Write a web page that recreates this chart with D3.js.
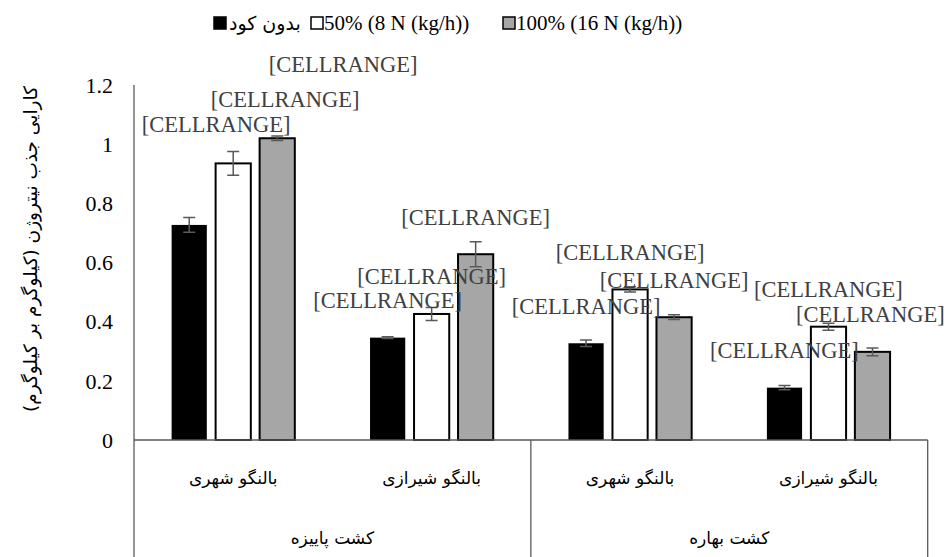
<!DOCTYPE html>
<html lang="fa">
<head>
  <meta charset="UTF-8">
  <title>Nitrogen uptake efficiency</title>
  <script src="https://d3js.org/d3.v7.min.js"></script>
  <style>
    body { margin: 0; background: #fff; }
    svg { display: block; background: #fff; }
    .serif { font-family: "Liberation Serif", "Times New Roman", "DejaVu Serif", serif; }
    .fa { font-family: "DejaVu Sans", sans-serif; }
  </style>
</head>
<body>

<svg id="chart" width="947" height="557"></svg>

<script>
// Data
const subCategories = ["بالنگو شهری", "بالنگو شیرازی", "بالنگو شهری", "بالنگو شیرازی"];
const groupNames = ["کشت پاییزه", "کشت بهاره"];
const seriesNames = ["بدون کود", "50% (8 N (kg/h))", "100% (16 N (kg/h))"];

const noFertilizer = [0.727, 0.346, 0.327, 0.177];
const half = [0.935, 0.426, 0.509, 0.383];
const full = [1.02, 0.628, 0.415, 0.298];

const noFertilizerErr = [0.025, 0.003, 0.011, 0.007];
const halfErr = [0.04, 0.022, 0.009, 0.012];
const fullErr = [0.008, 0.042, 0.008, 0.013];

const yTicks = [0, 0.2, 0.4, 0.6, 0.8, 1, 1.2];
const labelText = "[CELLRANGE]";
const yTitle = "کارایی جذب نیتروژن (کیلوگرم بر کیلوگرم)";

// Layout / style (not data)
const colors = ["#000000", "#ffffff", "#a6a6a6"];
// manual shifts of data labels (dx, dy from default spot) -- Excel labels were dragged in the first group
const labelShift = [
  [[27, -63], [52, -27], [66, -37]],
  [[0, 0], [0, 0], [0, 0]],
  [[0, 0], [0, 0], [0, 0]],
  [[0, 0], [0, 0], [-2, 0]]
];

const seriesValues = [noFertilizer, half, full];
const seriesErrors = [noFertilizerErr, halfErr, fullErr];

const svg = d3.select("#chart");
const plotLeft = 134, plotRight = 927.7, plotTop = 85, base = 440, plotBottom = 557;

const x0 = d3.scaleBand()
  .domain(d3.range(subCategories.length))
  .range([plotLeft, plotRight])
  .padding(0);

const bandW = x0.bandwidth();
const x1 = d3.scaleBand()
  .domain(d3.range(seriesNames.length))
  .range([bandW / 2 - 66, bandW / 2 + 66])
  .paddingInner(0.2)
  .paddingOuter(0.1);

const y = d3.scaleLinear()
  .domain([0, 1.2])
  .range([base, plotTop]);

// y tick labels (no grid lines, no tick marks)
svg.append("g")
  .selectAll("text")
  .data(yTicks)
  .join("text")
  .attr("class", "serif")
  .attr("x", 113)
  .attr("y", d => y(d))
  .attr("dy", "0.35em")
  .attr("text-anchor", "end")
  .attr("font-size", 22)
  .attr("fill", "#000")
  .text(d => String(+d.toFixed(1)));

// y title
svg.append("text")
  .attr("class", "fa")
  .attr("transform", `translate(30,${(plotTop + 413) / 2}) rotate(-90)`)
  .attr("text-anchor", "middle")
  .attr("dominant-baseline", "central")
  .attr("direction", "rtl")
  .attr("font-size", 18.5)
  .attr("fill", "#000")
  .text(yTitle);

// bars
const rows = [];
subCategories.forEach((c, i) => {
  seriesNames.forEach((s, j) => {
    rows.push({ cat: i, ser: j, value: seriesValues[j][i], err: seriesErrors[j][i] });
  });
});

svg.append("g")
  .selectAll("rect")
  .data(rows)
  .join("rect")
  .attr("x", d => x0(d.cat) + x1(d.ser))
  .attr("y", d => y(d.value))
  .attr("width", x1.bandwidth())
  .attr("height", d => base - y(d.value))
  .attr("fill", d => colors[d.ser])
  .attr("stroke", "#000")
  .attr("stroke-width", d => d.ser === 0 ? 0 : 2);

// error bars
const errG = svg.append("g")
  .attr("stroke", "#595959")
  .attr("stroke-width", 1.5)
  .attr("fill", "none");

const cx = d => x0(d.cat) + x1(d.ser) + x1.bandwidth() / 2;

errG.selectAll("path")
  .data(rows)
  .join("path")
  .attr("d", d => {
    const x = cx(d), y1 = y(d.value + d.err), y2 = y(d.value - d.err);
    return `M${x},${y1}V${y2}M${x - 6},${y1}H${x + 6}M${x - 6},${y2}H${x + 6}`;
  });

// axis lines
const axisG = svg.append("g")
  .attr("stroke", "#595959")
  .attr("stroke-width", 1.3)
  .attr("fill", "none");
axisG.append("line").attr("x1", plotLeft).attr("x2", plotLeft).attr("y1", plotTop).attr("y2", plotBottom);
axisG.append("line").attr("x1", plotLeft).attr("x2", plotRight).attr("y1", base).attr("y2", base);
[x0(2), plotRight].forEach(xv => {
  axisG.append("line").attr("x1", xv).attr("x2", xv).attr("y1", base).attr("y2", plotBottom);
});

// category labels, two levels
svg.append("g")
  .selectAll("text")
  .data(subCategories)
  .join("text")
  .attr("class", "fa")
  .attr("x", (d, i) => x0(i) + bandW / 2)
  .attr("y", 478)
  .attr("text-anchor", "middle")
  .attr("dominant-baseline", "central")
  .attr("direction", "rtl")
  .attr("font-size", 17)
  .attr("fill", "#000")
  .text(d => d);

svg.append("g")
  .selectAll("text")
  .data(groupNames)
  .join("text")
  .attr("class", "fa")
  .attr("x", (d, i) => (x0(i * 2) + x0(i * 2 + 1) + bandW) / 2)
  .attr("y", 538)
  .attr("text-anchor", "middle")
  .attr("dominant-baseline", "central")
  .attr("direction", "rtl")
  .attr("font-size", 17)
  .attr("fill", "#000")
  .text(d => d);

// data labels
svg.append("g")
  .selectAll("text")
  .data(rows)
  .join("text")
  .attr("class", "serif")
  .attr("x", d => cx(d) + labelShift[d.cat][d.ser][0])
  .attr("y", d => y(d.value) - 37 + labelShift[d.cat][d.ser][1])
  .attr("text-anchor", "middle")
  .attr("dominant-baseline", "central")
  .attr("font-size", 22.5)
  .attr("fill", "#404040")
  .text(labelText);

// legend
const legendX = [213, 310, 502];
const legend = svg.append("g");
seriesNames.forEach((name, j) => {
  const g = legend.append("g").attr("transform", `translate(${legendX[j]},23)`);
  g.append("rect")
    .attr("x", 1).attr("y", -6)
    .attr("width", 12).attr("height", 12)
    .attr("fill", colors[j])
    .attr("stroke", "#000")
    .attr("stroke-width", 1.5);
  g.append("text")
    .attr("class", j === 0 ? "fa" : "serif")
    .attr("x", j === 0 ? 16 : 14)
    .attr("y", 0)
    .attr("dominant-baseline", "central")
    .attr("font-size", j === 0 ? 19 : 21)
    .attr("fill", "#000")
    .text(name);
});
</script>

</body>
</html>
